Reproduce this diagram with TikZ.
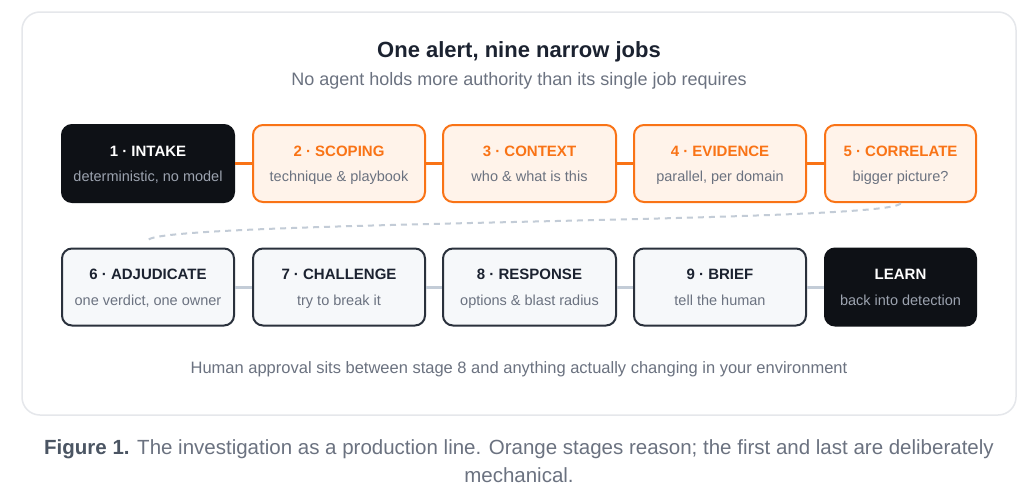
\documentclass[tikz,border=0pt]{standalone}
\usepackage{fontspec}
\setmainfont{Liberation Sans}
\definecolor{inkDark}{HTML}{0E1116}
\definecolor{inkTitle}{HTML}{1B2230}
\definecolor{inkGray}{HTML}{6B7280}
\definecolor{inkSoft}{HTML}{9CA3AF}
\definecolor{inkCap}{HTML}{4B5563}
\definecolor{orangeLine}{HTML}{F97316}
\definecolor{orangeFill}{HTML}{FFF3EA}
\definecolor{lightFill}{HTML}{F6F8FA}
\definecolor{lightLine}{HTML}{2A313C}
\definecolor{linkGray}{HTML}{C3CCD7}
\definecolor{cardLine}{HTML}{E5E7EB}

\begin{document}
\begin{tikzpicture}
[x=1pt,y=-1pt,
  stageDecorate/.style={shape=rectangle,rounded corners=10pt,line width=2pt,minimum height=77pt,inner sep=0pt},
  darkDecorate/.style={stageDecorate,draw=inkDark,fill=inkDark},
  orangeDecorate/.style={stageDecorate,draw=orangeLine,fill=orangeFill},
  lightDecorate/.style={stageDecorate,draw=lightLine,fill=lightFill},
  titleDecorate/.style={anchor=base,inner sep=0pt,font=\fontsize{15}{18}\selectfont\bfseries},
  subDecorate/.style={anchor=base,inner sep=0pt,font=\fontsize{14.5}{17}\selectfont},
  lineDecorate/.style={-,line width=2.5pt}]
\useasboundingbox[fill=white] (0,0) rectangle (1024,498);
%% card
\draw[cardLine,line width=1.5pt,fill=white,rounded corners=18pt] (22,12) rectangle (1016,415);
\node (head) at (519,57) [anchor=base,font=\fontsize{22}{26}\selectfont\bfseries,text=inkTitle] {One alert, nine narrow jobs};
\node (subhead) at (519,85) [anchor=base,font=\fontsize{18}{21}\selectfont,text=inkGray] {No agent holds more authority than its single job requires};
%% dark stages
\foreach \nodename/\x/\y/\w/\title/\sub in {
  s1/148/163.5/172/{1 · INTAKE}/{deterministic, no model},
  learn/900.5/287/151/{LEARN}/{back into detection}}
{
  \node (\nodename) at (\x,\y) [darkDecorate,minimum width=\w pt] {};
  \node (\nodename-t) at ([yshift=7.5pt]\nodename.center) [titleDecorate,text=white] {\title};
  \node (\nodename-s) at ([yshift=-18pt]\nodename.center) [subDecorate,text=inkSoft] {\sub};
}
%% orange stages
\foreach \nodename/\x/\y/\w/\title/\sub in {
  s2/339/163.5/172/{2 · SCOPING}/{technique \& playbook},
  s3/529.5/163.5/173/{3 · CONTEXT}/{who \& what is this},
  s4/720/163.5/172/{4 · EVIDENCE}/{parallel, per domain},
  s5/900.5/163.5/151/{5 · CORRELATE}/{bigger picture?}}
{
  \node (\nodename) at (\x,\y) [orangeDecorate,minimum width=\w pt] {};
  \node (\nodename-t) at ([yshift=7.5pt]\nodename.center) [titleDecorate,text=orangeLine] {\title};
  \node (\nodename-s) at ([yshift=-18pt]\nodename.center) [subDecorate,text=inkGray] {\sub};
}
%% light stages
\foreach \nodename/\x/\y/\w/\title/\sub in {
  s6/148/287/172/{6 · ADJUDICATE}/{one verdict, one owner},
  s7/339/287/172/{7 · CHALLENGE}/{try to break it},
  s8/529.5/287/173/{8 · RESPONSE}/{options \& blast radius},
  s9/720/287/172/{9 · BRIEF}/{tell the human}}
{
  \node (\nodename) at (\x,\y) [lightDecorate,minimum width=\w pt] {};
  \node (\nodename-t) at ([yshift=7.5pt]\nodename.center) [titleDecorate,text=inkTitle] {\title};
  \node (\nodename-s) at ([yshift=-18pt]\nodename.center) [subDecorate,text=inkGray] {\sub};
}
%% edges or lines
\path
\foreach \startnode/\endnode in {s1/s2, s2/s3, s3/s4, s4/s5}
{
  (\startnode) edge[lineDecorate,orangeLine] (\endnode)
};
\path
\foreach \startnode/\endnode in {s6/s7, s7/s8, s8/s9, s9/learn}
{
  (\startnode) edge[lineDecorate,linkGray,line width=3pt] (\endnode)
};
\coordinate (wrap) at ([yshift=7pt]s6.north);
\draw[linkGray,line width=2pt,dash pattern=on 6pt off 5pt]
  (s5.south) .. controls ([yshift=-20pt]s5.south) and ([yshift=20pt]wrap) .. (wrap);
%% notes
\node (note) at (519,373) [anchor=base,font=\fontsize{16.5}{20}\selectfont,text=inkGray] {Human approval sits between stage 8 and anything actually changing in your environment};
\node (caption) at (519,482) [anchor=base,align=center,font=\fontsize{20.5}{28}\selectfont,text=inkGray]
  {{\bfseries\color{inkCap}Figure 1.} The investigation as a production line. Orange stages reason; the first and last are deliberately\\mechanical.};
\end{tikzpicture}
\end{document}
